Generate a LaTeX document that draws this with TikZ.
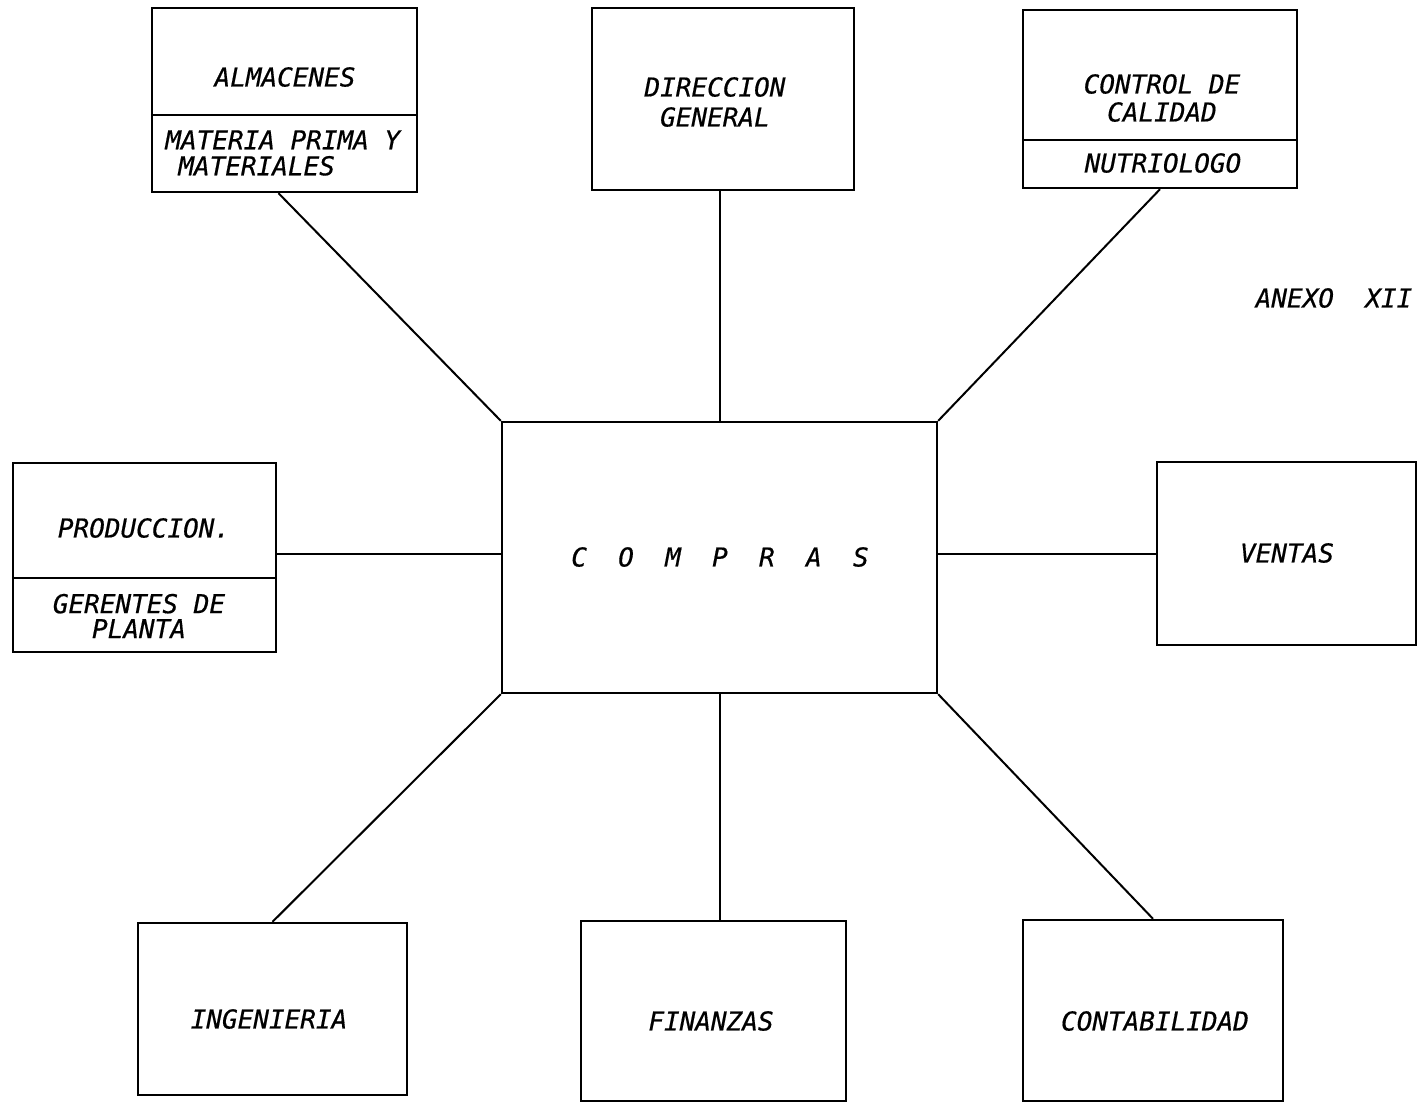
\documentclass[tikz,border=0pt]{standalone}
\usepackage{fontspec}
\newfontfamily\lett{DejaVu Sans Mono}[ItalicFeatures={FakeBold=0.5}]
\usetikzlibrary{calc}
\begin{document}
\begin{tikzpicture}[x=0.5pt,y=-0.5pt,
  box/.style={draw, line width=1.2pt, inner sep=0pt},
  divider/.style={line width=1.2pt},
  lbl/.style={font=\lett\itshape\fontsize{13}{14}\selectfont, inner sep=0pt, align=center},
  link/.style={line width=1pt}]
\useasboundingbox (0,0) rectangle (1418,1104);

% department boxes
\node[box, minimum width=132.5pt, minimum height=92pt]   (alm)  at (284.5,100)   {};
\node[box, minimum width=131pt,   minimum height=91pt]   (dir)  at (723,99)      {};
\node[box, minimum width=137pt,   minimum height=89pt]   (cal)  at (1160,99)     {};
\node[box, minimum width=131.5pt, minimum height=94.5pt] (prod) at (144.5,557.5) {};
\node[box, minimum width=129.5pt, minimum height=91.5pt] (ven)  at (1286.5,553.5){};
\node[box, minimum width=217.5pt, minimum height=135.5pt](comp) at (719.5,557.5) {};
\node[box, minimum width=134.5pt, minimum height=86pt]   (ing)  at (272.5,1009)  {};
\node[box, minimum width=132.5pt, minimum height=90pt]   (fin)  at (713.5,1011)  {};
\node[box, minimum width=130pt,   minimum height=90.5pt] (cont) at (1153,1010.5) {};

% split lines inside the two-part boxes
\coordinate (almdiv)  at (0,115);
\coordinate (caldiv)  at (0,140);
\coordinate (proddiv) at (0,578);
\draw[divider] (alm.west |- almdiv) -- (alm.east |- almdiv);
\draw[divider] (cal.west |- caldiv) -- (cal.east |- caldiv);
\draw[divider] (prod.west |- proddiv) -- (prod.east |- proddiv);

% labels
\node[lbl] (almt)  at (285,77)   {ALMACENES};
\node[lbl, align=left, anchor=west, font=\lett\itshape\fontsize{13}{13}\selectfont] (almb) at (165,153)
  {MATERIA PRIMA Y\\\hspace*{6.5pt}MATERIALES};
\node[lbl, font=\lett\itshape\fontsize{13}{15}\selectfont] (dirt)  at (715,102)  {DIRECCION\\GENERAL};
\node[lbl] (calt)  at (1162,98)  {CONTROL DE\\CALIDAD};
\node[lbl] (calb)  at (1163,163) {NUTRIOLOGO};
\node[lbl] (prodt) at (144,528)  {PRODUCCION.};
\node[lbl, font=\lett\itshape\fontsize{13}{12.5}\selectfont] (prodb) at (139,616)  {GERENTES DE\\PLANTA};
\node[lbl] (vent)  at (1287,553) {VENTAS};
\node[lbl] (compt) at (720,557)  {C~~O~~M~~P~~R~~A~~S};
\node[lbl] (ingt)  at (269,1019) {INGENIERIA};
\node[lbl] (fint)  at (711,1021) {FINANZAS};
\node[lbl] (contt) at (1155,1021){CONTABILIDAD};
\node[lbl] (anexo) at (1334,298) {ANEXO~~XII};

% connectors to the purchasing office
\draw[link] ($(alm.south)+(-6,0)$) -- (comp.north west);
\draw[link] (dir.south -| comp.north) -- (comp.north);
\draw[link] (cal.south) -- (comp.north east);
\draw[link] ($(comp.west)+(0,-4)$) coordinate (cw) -- (prod.east |- cw);
\draw[link] ($(comp.east)+(0,-4)$) coordinate (ce) -- (ven.west |- ce);
\draw[link] (comp.south west) -- (ing.north);
\draw[link] (comp.south) -- (comp.south |- fin.north);
\draw[link] (comp.south east) -- (cont.north);
\end{tikzpicture}
\end{document}
